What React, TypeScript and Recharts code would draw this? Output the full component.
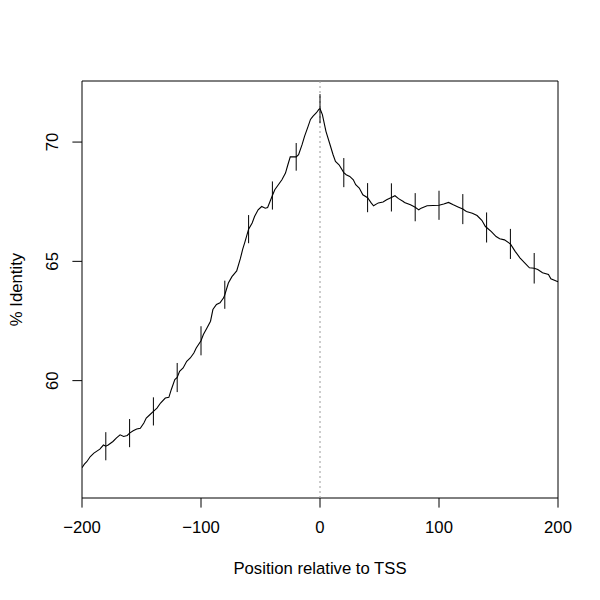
import React from 'react';
import { LineChart, Line, XAxis, YAxis, ErrorBar, ReferenceLine, ReferenceArea } from 'recharts';

const positions = [
  -200, -198, -196, -193, -190, -185, -182, -180, -178, -174, -171, -168, -165, -162, -160, -157, -154, -151, -148, -146,
  -143, -140, -137, -134, -130, -127, -125, -122, -120, -118, -115, -112, -109, -106, -104, -100, -98, -95, -92, -90,
  -87, -84, -81, -80, -77, -74, -70, -67, -65, -63, -60, -57, -55, -52, -49, -46, -44, -42, -40, -38,
  -35, -32, -29, -27, -25, -21, -20, -18, -15, -13, -10, -8, -6, -3, -1, 0, 2, 5, 8, 11,
  13, 16, 20, 22, 25, 28, 30, 33, 36, 40, 43, 45, 49, 53, 56, 60, 63, 66, 70, 71,
  76, 80, 83, 85, 90, 95, 100, 104, 108, 112, 116, 120, 123, 128, 132, 136, 139, 140, 144, 148,
  151, 155, 160, 164, 168, 172, 176, 180, 183, 187, 192, 194, 199, 200,
];

const identity = [
  56.35, 56.5, 56.6, 56.82, 56.96, 57.13, 57.3, 57.25, 57.3, 57.45, 57.6, 57.73, 57.66, 57.7, 57.8, 57.9, 57.97, 58.0, 58.22, 58.43,
  58.57, 58.71, 58.85, 59.06, 59.27, 59.3, 59.62, 60.04, 60.13, 60.39, 60.53, 60.81, 60.95, 61.16, 61.37, 61.67, 61.93, 62.21, 62.49, 62.98,
  63.19, 63.26, 63.47, 63.6, 64.09, 64.36, 64.6, 65.1, 65.5, 65.83, 66.35, 66.61, 66.88, 67.16, 67.3, 67.23, 67.26, 67.51, 67.76, 68.0,
  68.21, 68.42, 68.7, 69.05, 69.38, 69.38, 69.38, 69.47, 69.9, 70.24, 70.66, 70.95, 71.08, 71.23, 71.37, 71.4, 71.15, 70.45, 69.96, 69.47,
  69.19, 69.05, 68.72, 68.63, 68.56, 68.42, 68.21, 68.07, 67.79, 67.67, 67.45, 67.33, 67.45, 67.49, 67.58, 67.68, 67.75, 67.63, 67.51, 67.47,
  67.37, 67.27, 67.16, 67.23, 67.33, 67.34, 67.35, 67.4, 67.47, 67.37, 67.28, 67.19, 67.09, 67.02, 66.92, 66.72, 66.46, 66.42, 66.25, 66.04,
  65.95, 65.9, 65.73, 65.42, 65.15, 64.94, 64.73, 64.71, 64.66, 64.52, 64.45, 64.27, 64.17, 64.15,
];

const errorPositions = [-180, -160, -140, -120, -100, -80, -60, -40, -20, 0, 20, 40, 60, 80, 100, 120, 140, 160, 180];
const errorHalf = [0.59, 0.59, 0.59, 0.61, 0.61, 0.59, 0.59, 0.59, 0.58, 0.61, 0.61, 0.61, 0.59, 0.59, 0.61, 0.63, 0.63, 0.63, 0.64];

const xTicks = [-200, -100, 0, 100, 200];
const yTicks = [60, 65, 70];
const xDomain = [-200, 200];
const yDomain = [55.08, 72.56];

const data = positions.map((p, i) => {
  const k = errorPositions.indexOf(p);
  return { pos: p, value: identity[i], err: k >= 0 ? errorHalf[k] : undefined };
});

const FONT = '"Liberation Sans", Arial, Helvetica, sans-serif';
const FS = 16.7;

const fmt = (v: number) => String(v).replace('-', '\u2212');

const YTick = (props: any) => {
  const { x, y, payload } = props;
  return (
    <g transform={`translate(${x - 20},${y}) rotate(-90)`}>
      <text textAnchor="middle" dominantBaseline="central" fontSize={FS} fontFamily={FONT} fill="#000">
        {payload.value}
      </text>
    </g>
  );
};

const XTick = (props: any) => {
  const { x, y, payload } = props;
  return (
    <text x={x} y={y} textAnchor="middle" dominantBaseline="central" fontSize={FS} fontFamily={FONT} fill="#000">
      {fmt(payload.value)}
    </text>
  );
};

const XLabel = (props: any) => {
  const vb = props.viewBox || {};
  return (
    <text x={vb.x + vb.width / 2} y={vb.y + 70} textAnchor="middle" dominantBaseline="central" fontSize={FS} fontFamily={FONT} fill="#000">
      Position relative to TSS
    </text>
  );
};

const YLabel = (props: any) => {
  const vb = props.viewBox || {};
  const cx = vb.x + 16;
  const cy = vb.y + vb.height / 2;
  return (
    <g transform={`translate(${cx},${cy}) rotate(-90)`}>
      <text textAnchor="middle" dominantBaseline="central" fontSize={FS} fontFamily={FONT} fill="#000">
        % Identity
      </text>
    </g>
  );
};

export default function App() {
  return (
    <div style={{ position: 'absolute', left: 0, top: 0, width: 600, height: 600, background: '#fff' }}>
      <LineChart width={600} height={600} data={data} margin={{ top: 81, right: 42, bottom: 0, left: 0 }}>
        <XAxis
          dataKey="pos"
          type="number"
          domain={xDomain}
          ticks={xTicks}
          allowDataOverflow
          height={102}
          tickSize={9.6}
          tickMargin={20}
          tick={<XTick />}
          stroke="#000"
          tickLine={{ stroke: '#000' }}
          axisLine={false}
          label={<XLabel />}
        />
        <YAxis
          type="number"
          domain={yDomain}
          ticks={yTicks}
          allowDataOverflow
          width={82}
          tickSize={9.6}
          tickMargin={0}
          tick={<YTick />}
          stroke="#000"
          tickLine={{ stroke: '#000' }}
          axisLine={false}
          label={<YLabel />}
        />
        <ReferenceLine x={0} stroke="#999" strokeDasharray="2 3" strokeWidth={1} ifOverflow="visible" />
        <Line
          dataKey="value"
          type="linear"
          stroke="#000"
          strokeWidth={1.1}
          dot={false}
          isAnimationActive={false}
        >
          <ErrorBar dataKey="err" width={0} stroke="#000" strokeWidth={1} direction="y" />
        </Line>
        <ReferenceArea
          x1={xDomain[0]}
          x2={xDomain[1]}
          y1={yDomain[0]}
          y2={yDomain[1]}
          fill="none"
          fillOpacity={0}
          stroke="#000"
          strokeWidth={1}
          ifOverflow="visible"
        />
      </LineChart>
    </div>
  );
}
